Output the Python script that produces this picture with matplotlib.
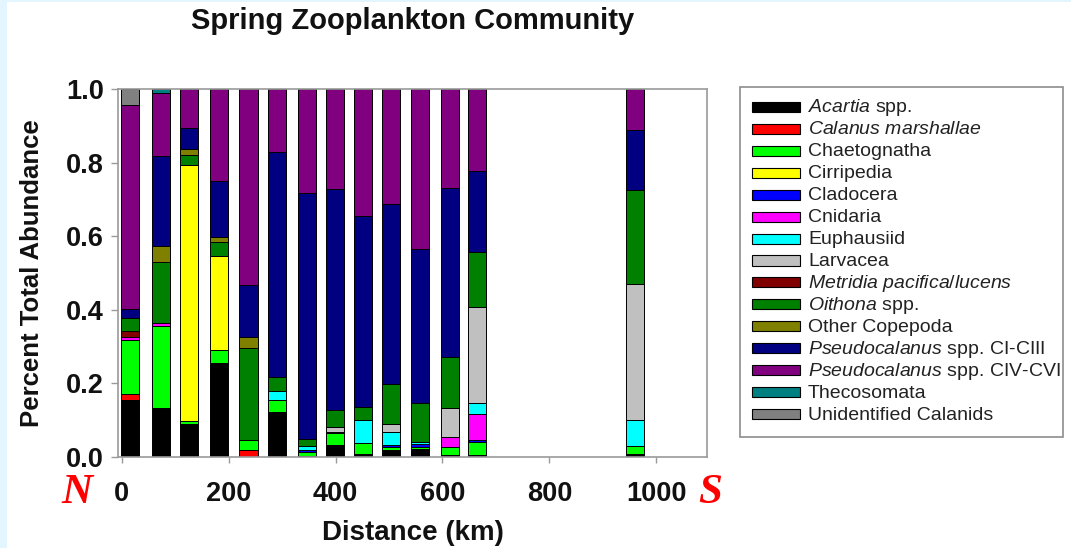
import numpy as np
import matplotlib
matplotlib.use("Agg")
import matplotlib.pyplot as plt
from matplotlib.patches import Rectangle

plt.rcParams["font.family"] = ["Liberation Sans", "DejaVu Sans"]
plt.rcParams["mathtext.fontset"] = "custom"
plt.rcParams["mathtext.rm"] = "Liberation Sans"
plt.rcParams["mathtext.it"] = "Liberation Sans:italic"
plt.rcParams["mathtext.bf"] = "Liberation Sans:bold"

# Station distance along the transect (km)
distance_km = [16, 74, 126, 182, 237, 290, 347, 399, 452, 504, 558, 614, 665, 961]

# Fraction of total abundance per taxon at each station
acartia        = [0.156, 0.134, 0.091, 0.256, 0.000, 0.123, 0.004, 0.032, 0.007, 0.018, 0.022, 0.005, 0.005, 0.007]
calanus        = [0.015, 0.000, 0.000, 0.000, 0.018, 0.000, 0.000, 0.000, 0.000, 0.000, 0.000, 0.000, 0.000, 0.000]
chaetognatha   = [0.147, 0.222, 0.007, 0.036, 0.029, 0.032, 0.010, 0.032, 0.031, 0.009, 0.006, 0.022, 0.036, 0.022]
cirripedia     = [0.000, 0.000, 0.696, 0.255, 0.000, 0.000, 0.000, 0.000, 0.000, 0.000, 0.000, 0.000, 0.000, 0.000]
cladocera      = [0.000, 0.000, 0.000, 0.000, 0.000, 0.000, 0.006, 0.000, 0.000, 0.005, 0.008, 0.000, 0.006, 0.000]
cnidaria       = [0.009, 0.009, 0.000, 0.000, 0.000, 0.000, 0.000, 0.000, 0.000, 0.000, 0.000, 0.027, 0.071, 0.000]
euphausiid     = [0.000, 0.000, 0.000, 0.000, 0.000, 0.025, 0.010, 0.005, 0.062, 0.036, 0.006, 0.000, 0.029, 0.071]
larvacea       = [0.000, 0.000, 0.000, 0.000, 0.000, 0.000, 0.000, 0.013, 0.000, 0.022, 0.000, 0.078, 0.261, 0.370]
metridia       = [0.016, 0.000, 0.000, 0.000, 0.000, 0.000, 0.000, 0.000, 0.000, 0.000, 0.000, 0.000, 0.000, 0.000]
oithona        = [0.036, 0.166, 0.027, 0.036, 0.248, 0.038, 0.020, 0.047, 0.036, 0.108, 0.105, 0.140, 0.150, 0.256]
other_copepoda = [0.000, 0.043, 0.017, 0.016, 0.032, 0.000, 0.000, 0.000, 0.000, 0.000, 0.000, 0.000, 0.000, 0.000]
pseudo_ci_ciii = [0.022, 0.243, 0.056, 0.150, 0.140, 0.610, 0.667, 0.599, 0.519, 0.490, 0.417, 0.458, 0.218, 0.163]
pseudo_civ_cvi = [0.556, 0.172, 0.106, 0.251, 0.533, 0.172, 0.283, 0.272, 0.345, 0.312, 0.436, 0.270, 0.224, 0.111]
thecosomata    = [0.000, 0.011, 0.000, 0.000, 0.000, 0.000, 0.000, 0.000, 0.000, 0.000, 0.000, 0.000, 0.000, 0.000]
unid_calanids  = [0.043, 0.000, 0.000, 0.000, 0.000, 0.000, 0.000, 0.000, 0.000, 0.000, 0.000, 0.000, 0.000, 0.000]

taxa_labels = [
    r"$\it{Acartia}$ spp.",
    r"$\it{Calanus\ marshallae}$",
    "Chaetognatha",
    "Cirripedia",
    "Cladocera",
    "Cnidaria",
    "Euphausiid",
    "Larvacea",
    r"$\it{Metridia\ pacifica/lucens}$",
    r"$\it{Oithona}$ spp.",
    "Other Copepoda",
    r"$\it{Pseudocalanus}$ spp. CI-CIII",
    r"$\it{Pseudocalanus}$ spp. CIV-CVI",
    "Thecosomata",
    "Unidentified Calanids",
]
taxa_values = [acartia, calanus, chaetognatha, cirripedia, cladocera, cnidaria,
               euphausiid, larvacea, metridia, oithona, other_copepoda,
               pseudo_ci_ciii, pseudo_civ_cvi, thecosomata, unid_calanids]
taxa_colors = ["#000000", "#FF0000", "#00FF00", "#FFFF00", "#0000FF", "#FF00FF",
               "#00FFFF", "#C0C0C0", "#800000", "#008000", "#808000",
               "#000080", "#800080", "#008080", "#808080"]

W, H = 1071, 548
fig = plt.figure(figsize=(W / 100, H / 100), dpi=100, facecolor="white")


def fx(px):
    return px / W


def fy(py):
    return 1 - py / H


# light blue page border on the left and top edges
fig.patches.append(Rectangle((0, 0), fx(7), 1, transform=fig.transFigure,
                             facecolor="#E3F5FF", edgecolor="none", zorder=-1))
fig.patches.append(Rectangle((0, fy(2)), 1, 2 / H, transform=fig.transFigure,
                             facecolor="#E3F5FF", edgecolor="none", zorder=-1))

ax = fig.add_axes([fx(118), fy(457), fx(707 - 118), (457 - 89) / H])

x = np.array(distance_km, dtype=float)
bottom = np.zeros(len(x))
for vals, col in zip(taxa_values, taxa_colors):
    v = np.array(vals)
    ax.bar(x, v, width=34, bottom=bottom, color=col, edgecolor="black",
           linewidth=0.7, zorder=2)
    bottom += v

ax.set_xlim(-7, 1095)
ax.set_ylim(0, 1.0)
ax.set_xticks([0, 200, 400, 600, 800, 1000])
ax.set_yticks([0.0, 0.2, 0.4, 0.6, 0.8, 1.0])
ax.set_yticklabels(["0.0", "0.2", "0.4", "0.6", "0.8", "1.0"])

for sp in ax.spines.values():
    sp.set_color("#9a9a9a")
    sp.set_linewidth(1.2)

ax.tick_params(axis="y", direction="out", length=5, width=1, color="#9a9a9a",
               labelsize=19.5, pad=5)
ax.tick_params(axis="x", direction="out", length=4, width=1, color="#9a9a9a",
               labelsize=19.5, pad=13)
for lab in ax.get_xticklabels() + ax.get_yticklabels():
    lab.set_fontweight("bold")
    lab.set_color("#111111")

ax.set_ylabel("Percent Total Abundance", fontsize=18.5, fontweight="bold",
              color="#111111", labelpad=16)
ax.set_xlabel("Distance (km)", fontsize=20, fontweight="bold", color="#111111",
              labelpad=10)
ax.set_title("Spring Zooplankton Community", fontsize=21, fontweight="bold",
             color="#111111", pad=43)

# North / South direction markers
fig.text(fx(77), fy(493), "N", color="red", fontsize=31,
         fontweight="bold", fontstyle="italic", family="Liberation Serif",
         ha="center", va="center")
fig.text(fx(710), fy(493), "S", color="red", fontsize=31,
         fontweight="bold", fontstyle="italic", family="Liberation Serif",
         ha="center", va="center")

# Legend box with one swatch and label per taxon
fig.patches.append(Rectangle((fx(740), fy(437)), fx(1063 - 740), (437 - 87) / H,
                             transform=fig.transFigure, facecolor="white",
                             edgecolor="#8c8c8c", linewidth=1.2, zorder=1))
row0, row_step = 107.0, (414.0 - 107.0) / 14
for i, (lab, col) in enumerate(zip(taxa_labels, taxa_colors)):
    yc = row0 + i * row_step
    fig.patches.append(Rectangle((fx(752), fy(yc + 5)), fx(48), 10 / H,
                                 transform=fig.transFigure, facecolor=col,
                                 edgecolor="black", linewidth=0.8, zorder=2))
    fig.text(fx(808), fy(yc + 5.5), lab, fontsize=14, color="#222222",
             ha="left", va="baseline", zorder=3)

fig.savefig("out.png", dpi=100, facecolor="white")
